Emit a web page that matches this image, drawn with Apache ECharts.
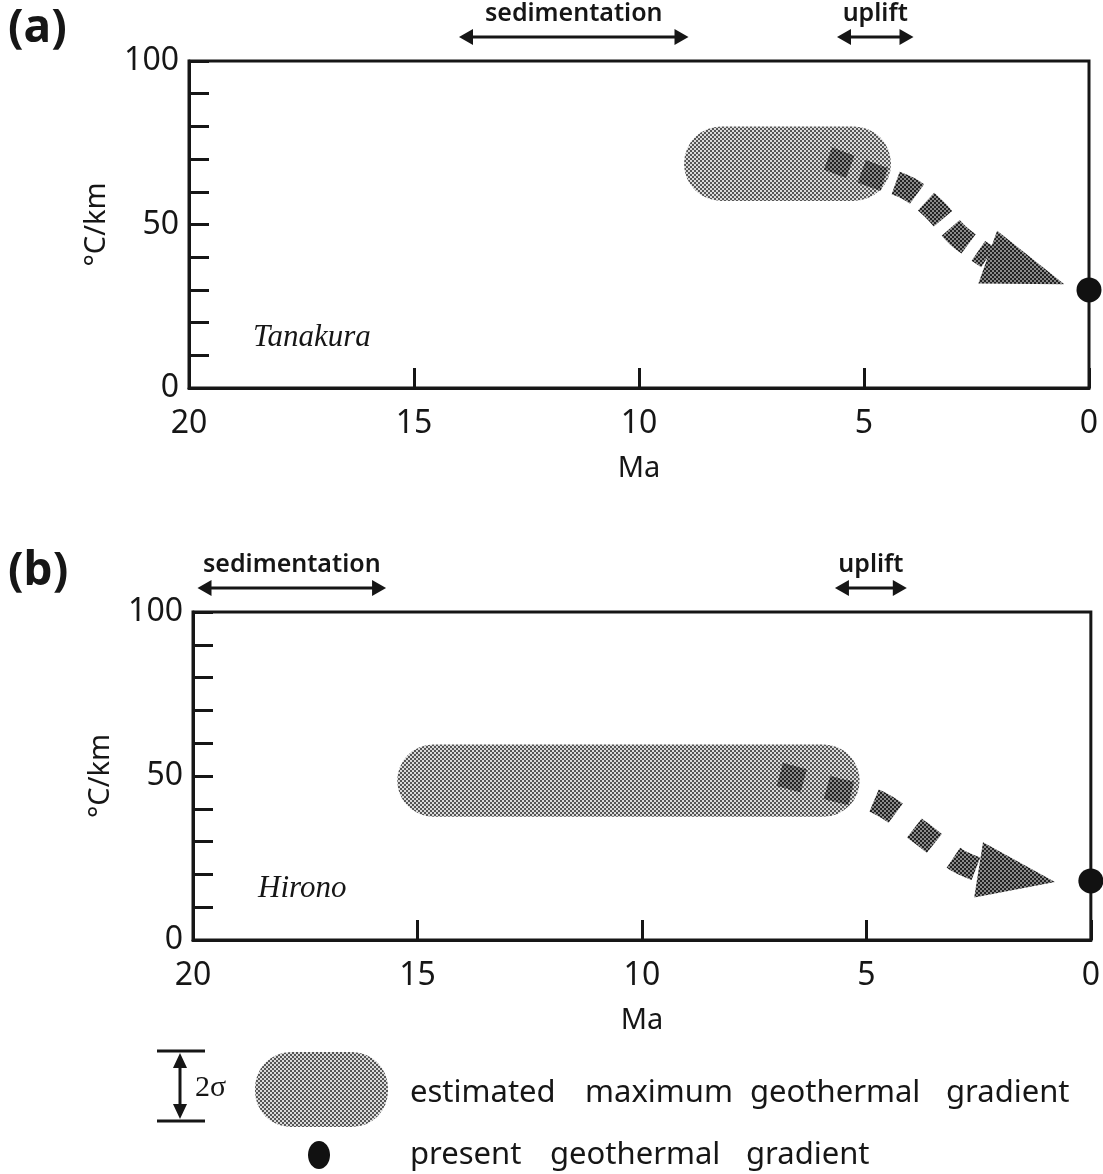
<!DOCTYPE html>
<html><head><meta charset="utf-8">
<script src="https://cdn.jsdelivr.net/npm/echarts@6/dist/echarts.min.js"></script>
<style>html,body{margin:0;padding:0;background:#fff}#c{width:1103px;height:1174px}</style>
</head><body><div id="c"></div>
<script>
// ---------------- data ----------------
const panelLabels = ['(a)', '(b)'];
const siteNames = ['Tanakura', 'Hirono'];
const yLabelsShown = [0, 50, 100];
const phaseNames = ['sedimentation', 'uplift'];
// estimated maximum geothermal gradient box: [Ma start, Ma end, low, high] (°C/km)
const blobA = [[9.0, 4.4, 57.2, 80.0]];
const blobB = [[15.45, 5.15, 37.6, 59.6]];
// inferred cooling path [Ma, °C/km]; last point is the arrow tip
const pathA = [[5.8, 70.2], [4.8, 65.0], [4.0, 60.9], [3.45, 54.8], [2.9, 46.5], [2.25, 40.0], [0.55, 31.7]];
const pathB = [[6.93, 50.5], [5.87, 46.5], [4.73, 41.9], [3.82, 33.0], [3.0, 24.5], [2.5, 21.4], [0.8, 17.7]];
// present geothermal gradient [Ma, °C/km]
const presentA = [[0, 30]];
const presentB = [[0, 18]];
// sedimentation / uplift periods [Ma from, Ma to]
const sedA = [[14.0, 8.9]];
const upliftA = [[5.6, 3.9]];
const sedB = [[19.9, 15.7]];
const upliftB = [[5.7, 4.1]];

// ---------------- patterns ----------------
function makePattern(dark, light) {
  const c = document.createElement('canvas');
  c.width = 4; c.height = 4;
  const g = c.getContext('2d');
  g.fillStyle = light; g.fillRect(0, 0, 4, 4);
  g.fillStyle = dark; g.fillRect(0, 0, 2, 2); g.fillRect(2, 2, 2, 2);
  return { image: c, repeat: 'repeat' };
}
const patLight = makePattern('#555555', '#dadada');
const patDark = makePattern('#222222', '#8a8a8a');

const INK = '#161616';
const SANS = 'Noto Sans';

function blobRender(params, api) {
  const p1 = api.coord([api.value(0), api.value(3)]);
  const p2 = api.coord([api.value(1), api.value(2)]);
  const x = Math.min(p1[0], p2[0]), y = Math.min(p1[1], p2[1]);
  const w = Math.abs(p2[0] - p1[0]), h = Math.abs(p2[1] - p1[1]);
  return { type: 'rect', shape: { x, y, width: w, height: h, r: h / 2 }, style: { fill: patLight } };
}

function makePathRender(path, dash, width, headW) {
  return function (params, api) {
    if (params.dataIndex !== 0) return null;
    const pts = path.map(p => api.coord(p));
    const n = pts.length;
    const B = pts[n - 2], T = pts[n - 1];
    const dx = T[0] - B[0], dy = T[1] - B[1];
    const L = Math.hypot(dx, dy);
    const nx = -dy / L, ny = dx / L;
    return {
      type: 'group',
      children: [
        { type: 'polyline', shape: { points: pts.slice(0, n - 1), smooth: 0.35 },
          style: { stroke: patDark, lineWidth: width, lineDash: dash, lineCap: 'butt', fill: null } },
        { type: 'polygon', shape: { points: [[B[0] + nx * headW, B[1] + ny * headW], [B[0] - nx * headW, B[1] - ny * headW], T] },
          style: { fill: patDark } }
      ]
    };
  };
}

function makePhaseRender(label) {
  return function (params, api) {
    const top = api.coord([0, 100])[1];
    const y = top - 24;
    const a = api.coord([api.value(0), 100])[0];
    const b = api.coord([api.value(1), 100])[0];
    const x0 = Math.min(a, b), x1 = Math.max(a, b);
    const hl = 14, hw = 8;
    return {
      type: 'group',
      children: [
        { type: 'line', shape: { x1: x0 + hl - 2, y1: y, x2: x1 - hl + 2, y2: y }, style: { stroke: INK, lineWidth: 3 } },
        { type: 'polygon', shape: { points: [[x0, y], [x0 + hl, y - hw], [x0 + hl, y + hw]] }, style: { fill: INK } },
        { type: 'polygon', shape: { points: [[x1, y], [x1 - hl, y - hw], [x1 - hl, y + hw]] }, style: { fill: INK } },
        { type: 'text', style: { text: label, x: (x0 + x1) / 2, y: y - 11, align: 'center', verticalAlign: 'bottom',
          font: '600 25px "' + SANS + '"', fill: INK } }
      ]
    };
  };
}

function xAxisCfg(gi) {
  return {
    gridIndex: gi, type: 'value', min: 0, max: 20, interval: 5, inverse: true,
    axisLine: { onZero: false, lineStyle: { color: INK, width: 3 } },
    axisTick: { inside: true, length: 20, lineStyle: { color: INK, width: 3 } },
    axisLabel: { fontSize: 32, color: INK, margin: 20, fontFamily: SANS },
    splitLine: { show: false },
    name: 'Ma', nameLocation: 'middle', nameGap: 66,
    nameTextStyle: { fontSize: 29, color: INK, fontFamily: SANS }
  };
}
function yAxisCfg(gi) {
  return {
    gridIndex: gi, type: 'value', min: 0, max: 100, interval: 10, position: 'left',
    axisLine: { onZero: false, lineStyle: { color: INK, width: 3 } },
    axisTick: { inside: true, length: 20, lineStyle: { color: INK, width: 3 } },
    axisLabel: { fontSize: 32, color: INK, margin: 10, fontFamily: SANS,
      formatter: v => (yLabelsShown.indexOf(v) >= 0 ? String(v) : '') },
    splitLine: { show: false },
    name: '°C/km', nameLocation: 'middle', nameGap: 78, nameRotate: 90,
    nameTextStyle: { fontSize: 29, color: INK, fontFamily: SANS }
  };
}

function panelSeries(gi, blob, path, present, sed, uplift, dash, headW) {
  return [
    { type: 'custom', xAxisIndex: gi, yAxisIndex: gi, data: blob, renderItem: blobRender, z: 2, silent: true },
    { type: 'custom', xAxisIndex: gi, yAxisIndex: gi, data: path, renderItem: makePathRender(path, dash, 24, headW), z: 3, silent: true },
    { type: 'scatter', xAxisIndex: gi, yAxisIndex: gi, data: present, symbol: 'circle', symbolSize: 25,
      itemStyle: { color: '#111', opacity: 1 }, clip: false, z: 5, silent: true },
    { type: 'custom', xAxisIndex: gi, yAxisIndex: gi, data: sed, renderItem: makePhaseRender(phaseNames[0]), clip: false, z: 4, silent: true },
    { type: 'custom', xAxisIndex: gi, yAxisIndex: gi, data: uplift, renderItem: makePhaseRender(phaseNames[1]), clip: false, z: 4, silent: true }
  ];
}

const chart = echarts.init(document.getElementById('c'), null, { renderer: 'canvas' });

const legendWords1 = ['estimated', 'maximum', 'geothermal', 'gradient'];
const legendX1 = [410, 585, 750, 946];
const legendWords2 = ['present', 'geothermal', 'gradient'];
const legendX2 = [410, 550, 746];

const graphics = [
  { type: 'text', left: 8, top: 6, style: { text: panelLabels[0], font: 'bold 46px "' + SANS + '"', fill: INK } },
  { type: 'text', left: 8, top: 549, style: { text: panelLabels[1], font: 'bold 46px "' + SANS + '"', fill: INK } },
  { type: 'text', x: 253, y: 338, style: { text: siteNames[0], font: 'italic 31px "Liberation Serif"', fill: INK, verticalAlign: 'middle' } },
  { type: 'text', x: 258, y: 889, style: { text: siteNames[1], font: 'italic 31px "Liberation Serif"', fill: INK, verticalAlign: 'middle' } },
  // legend: 2 sigma bracket
  { type: 'line', shape: { x1: 157, y1: 1051, x2: 205, y2: 1051 }, style: { stroke: INK, lineWidth: 3 } },
  { type: 'line', shape: { x1: 157, y1: 1121, x2: 205, y2: 1121 }, style: { stroke: INK, lineWidth: 3 } },
  { type: 'line', shape: { x1: 180, y1: 1062, x2: 180, y2: 1110 }, style: { stroke: INK, lineWidth: 3 } },
  { type: 'polygon', shape: { points: [[180, 1053], [173, 1068], [187, 1068]] }, style: { fill: INK } },
  { type: 'polygon', shape: { points: [[180, 1119], [173, 1104], [187, 1104]] }, style: { fill: INK } },
  { type: 'text', x: 195, y: 1088, style: { text: '2σ', font: '30px "Liberation Serif"', fill: INK, verticalAlign: 'middle' } },
  { type: 'rect', shape: { x: 255, y: 1052, width: 133, height: 75, r: 36 }, style: { fill: patLight } },
  { type: 'ellipse', shape: { cx: 319, cy: 1155, rx: 11, ry: 14 }, style: { fill: '#111' } }
];
legendWords1.forEach((w, i) => graphics.push({ type: 'text', x: legendX1[i], y: 1093,
  style: { text: w, font: '31px "' + SANS + '"', fill: INK, verticalAlign: 'middle' } }));
legendWords2.forEach((w, i) => graphics.push({ type: 'text', x: legendX2[i], y: 1155,
  style: { text: w, font: '31px "' + SANS + '"', fill: INK, verticalAlign: 'middle' } }));

chart.setOption({
  backgroundColor: '#ffffff',
  animation: false,
  grid: [
    { left: 189, top: 61, width: 900, height: 327, show: true, borderColor: INK, borderWidth: 3, backgroundColor: 'transparent' },
    { left: 193, top: 612, width: 900, height: 328, show: true, borderColor: INK, borderWidth: 3, backgroundColor: 'transparent' }
  ],
  xAxis: [xAxisCfg(0), xAxisCfg(1)],
  yAxis: [yAxisCfg(0), yAxisCfg(1)],
  series: [].concat(
    panelSeries(0, blobA, pathA, presentA, sedA, upliftA, [24, 12], 28),
    panelSeries(1, blobB, pathB, presentB, sedB, upliftB, [25, 24], 28)
  ),
  graphic: graphics
});
</script>
</body></html>
